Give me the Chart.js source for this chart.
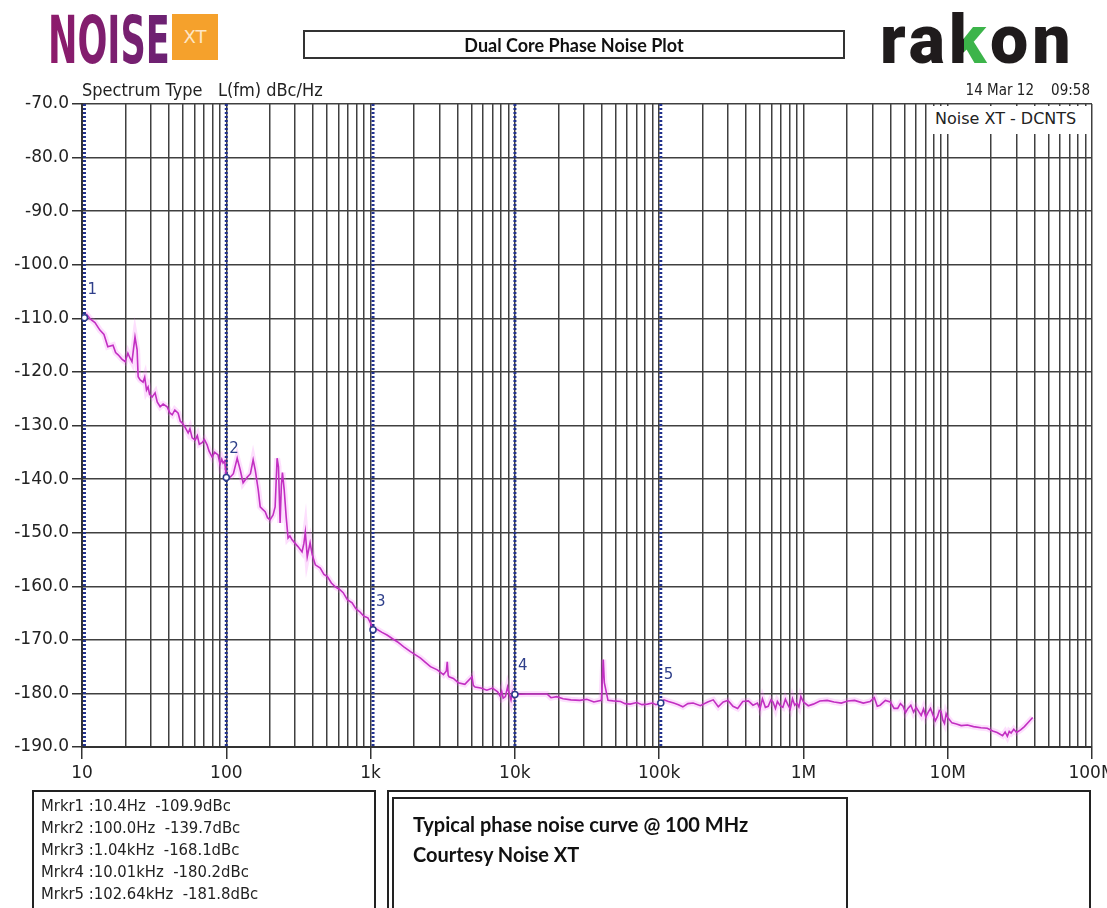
<!DOCTYPE html>
<html>
<head>
<meta charset="utf-8">
<title>Dual Core Phase Noise Plot</title>
<script src="https://cdn.jsdelivr.net/npm/chart.js@4.4.1/dist/chart.umd.min.js"></script>
<style>
  html, body { margin: 0; padding: 0; background: #fff; }
  body { width: 1107px; height: 908px; position: relative; overflow: hidden; font-family: 'DejaVu Sans', sans-serif; color: #222; }
  #plot { position: absolute; left: 0; top: 0; }
  .abs { position: absolute; white-space: nowrap; }
  #noise { left: 48px; top: 8px; font-family: 'DejaVu Sans Condensed', sans-serif; font-weight: bold;
           font-size: 50px; line-height: 50px; transform-origin: 0 0;
           background: linear-gradient(90deg, #8e1b6b, #6b2273); -webkit-background-clip: text; background-clip: text; color: transparent; }
  #xt { left: 172px; top: 14px; width: 46px; height: 46px; background: #f5a12c; color: #fde6c4; font-size: 18px; line-height: 46px; text-align: center; }
  #title { left: 303px; top: 30px; width: 538px; height: 25px; border: 2px solid #333; font-family: Lato, sans-serif; font-weight: bold;
           font-size: 18px; line-height: 27px; text-align: center; color: #111; }
  #rakon { left: 880px; top: 6px; font-family: Roboto, sans-serif; font-weight: 900; font-size: 68px; line-height: 68px; color: #1f1b1c; letter-spacing: 4px; }
  #rakon .k { background: linear-gradient(90deg, #1f1b1c 36%, #3cb44a 36%); -webkit-background-clip: text; background-clip: text; color: transparent; }
  #spec { left: 82px; top: 79px; font-family: 'DejaVu Sans Condensed', sans-serif; font-size: 18px; }
  #date { right: 17px; top: 81px; font-family: 'DejaVu Sans Condensed', sans-serif; font-size: 15px; }
  #tag { left: 932px; top: 106px; width: 158px; height: 28px; background: #fff; font-size: 16px; line-height: 26px; padding-left: 3px; box-sizing: border-box; }
  #mbox { left: 32px; top: 790px; width: 340px; height: 140px; border: 2px solid #222; }
  #mbox div { font-family: 'DejaVu Sans Condensed', sans-serif; font-size: 16.5px; height: 22px; line-height: 22px; margin-left: 7px; white-space: pre; }
  #mbox .first { margin-top: 3px; }
  #obox { left: 387px; top: 790px; width: 700px; height: 140px; border: 2px solid #222; }
  #ibox { left: 392px; top: 797px; width: 452px; height: 140px; border: 2px solid #222; font-family: Lato, sans-serif; font-weight: bold; font-size: 20px; color: #111; }
  #ibox div { margin-left: 19px; height: 30px; line-height: 30px; }
  #ibox .first { margin-top: 10px; }
</style>
</head>
<body>
<canvas id="plot" width="1107" height="908"></canvas>
<div class="abs" id="noise">NOISE</div>
<div class="abs" id="xt">XT</div>
<div class="abs" id="title">Dual Core Phase Noise Plot</div>
<div class="abs" id="rakon">ra<span class="k">k</span>on</div>
<div class="abs" id="spec">Spectrum Type&nbsp;&nbsp; L(fm) dBc/Hz</div>
<div class="abs" id="date">14 Mar 12&nbsp;&nbsp;&nbsp; 09:58</div>
<div class="abs" id="tag">Noise XT - DCNTS</div>
<div class="abs" id="mbox"></div>
<div class="abs" id="obox"></div>
<div class="abs" id="ibox">
  <div class="first">Typical phase noise curve @ 100 MHz</div>
  <div>Courtesy Noise XT</div>
</div>
<script>
const freqHz = [
  10, 10.4, 10.8, 11.5, 12.3, 13.3, 14.2, 15.1, 16.4, 17.1, 17.8, 18.9, 19.9, 20.8, 21.5, 22.2, 22.8, 23.3, 24.1, 24.5,
  25.3, 26.5, 27.2, 28.0, 28.7, 29.4, 30.6, 32.1, 33.2, 34.8, 36.5, 38.9, 40.5, 42.2, 44.0, 46.4, 48.0, 49.4, 51.5, 54.4,
  56.0, 58.0, 60.9, 63.0, 65.0, 68.0, 70.5, 73.6, 76.0, 79.8, 83.0, 87.7, 90.5, 93.0, 95.0, 97.5, 100,
  106.7, 112, 119, 125, 130.8, 140, 147, 153.5, 158.7, 166.5, 171.8, 178, 186, 193, 201, 211, 218, 225, 230, 236, 241, 245,
  252, 260, 268, 276, 285, 300, 314, 335, 345, 353, 364, 381, 394, 414, 448, 475, 502, 535, 570, 610, 646, 690, 745, 790,
  845, 900, 958, 1000, 1040, 1100, 1200, 1300, 1420, 1540, 1700, 1890, 2050, 2220, 2400, 2600, 2900, 3200, 3350, 3400,
  3450, 3500, 3750, 4050, 4500, 5050, 5150, 5300, 5800, 6400, 7000, 7600, 7900, 8100, 8300, 8600, 8900, 9200, 9400, 9600, 9800, 10010,
  12000, 14500, 16700, 17800, 19500, 21600, 24500, 28200, 31500, 35300, 39800, 41000, 41700, 44200, 48000, 54000,
  58000, 63000, 70000, 76000, 83000, 90000, 95000, 102640,
  108000, 116000, 126000, 136000, 146000, 158000, 172000, 193000, 217000, 237000, 257000, 278000, 300000, 325000,
  350000, 380000, 415000, 447000, 480000, 500000, 520000, 545000, 570000, 595000, 615000, 640000, 660000, 690000,
  720000, 750000, 780000, 810000, 840000, 870000, 900000, 930000, 960000,
  1000000, 1080000, 1170000, 1300000, 1460000, 1630000, 1830000, 2030000, 2260000, 2600000, 2900000, 3100000,
  3250000, 3400000, 3700000, 4000000, 4250000, 4500000, 4700000, 4900000, 5100000, 5300000, 5550000, 5800000,
  6050000, 6300000, 6550000, 6800000, 7050000, 7300000, 7600000, 7900000, 8200000, 8500000, 8750000, 9000000,
  9250000, 9500000, 9750000, 10000000, 10700000, 11500000, 12400000, 13700000, 15100000, 17000000,
  18800000, 20500000, 22000000, 24000000, 25000000, 25900000, 26700000, 27500000, 28700000, 30000000, 32000000,
  34000000, 36500000, 38800000
];
const phaseNoise = [
  -109.7, -109.9, -109.3, -110.2, -110.8, -112.2, -113.0, -115.3, -115.0, -116.4, -116.8, -117.6, -118.1, -116.5, -117.4, -118.1, -115.5, -113.5, -115.9, -120.9,
  -121.5, -121.9, -121.0, -123.4, -122.8, -124.2, -124.7, -123.9, -125.6, -126.5, -126.0, -126.5, -127.6, -128.0, -127.1, -127.7, -129.2, -129.5, -130.2, -131.4,
  -130.6, -132.3, -132.7, -131.9, -133.5, -133.2, -132.6, -133.6, -134.8, -135.9, -135.0, -135.5, -137.2, -136.3, -137.0, -136.6, -139.7,
  -139.6, -139.0, -136.1, -138.3, -140.7, -139.6, -139.0, -136.4, -138.3, -142.0, -145.2, -145.6, -146.1, -147.2, -147.6, -146.7, -145.2, -136.1, -137.7, -148.2, -141.0, -138.8,
  -142.0, -147.0, -151.0, -150.6, -151.3, -152.0, -152.6, -153.6, -152.0, -149.9, -154.5, -151.9, -154.1, -156.0, -156.6, -157.8, -158.2, -159.4, -160.1, -160.6, -161.2, -162.5, -163.1, -164.2,
  -164.8, -165.6, -165.9, -166.9, -168.1, -168.0, -168.6, -169.1, -169.8, -170.4, -171.3, -172.2, -172.8, -173.4, -174.2, -175.0, -175.6, -176.5, -175.8, -174.1,
  -176.6, -176.9, -177.2, -178.0, -178.3, -176.9, -178.5, -178.8, -179.0, -179.4, -179.0, -179.7, -180.5, -179.6, -180.9, -180.6, -178.8, -180.3, -181.2, -179.8, -180.7, -180.2,
  -180.1, -180.1, -180.1, -180.8, -180.6, -181.0, -181.2, -181.3, -181.1, -181.6, -181.3, -173.7, -178.0, -181.3, -181.4, -181.5,
  -181.9, -182.0, -181.7, -182.1, -182.0, -181.8, -182.1, -181.8,
  -181.2, -181.5, -181.8, -182.1, -182.5, -181.9, -181.8, -182.3, -181.6, -181.2, -182.5, -181.6, -181.3, -182.4,
  -182.8, -181.5, -181.4, -182.2, -181.8, -182.9, -181.0, -182.6, -182.4, -181.2, -181.6, -182.8, -181.5, -182.3,
  -182.6, -181.1, -182.1, -182.9, -181.0, -182.2, -181.8, -182.5, -180.6,
  -181.6, -182.3, -182.0, -181.4, -181.3, -181.6, -181.8, -181.4, -181.3, -181.8, -181.5, -180.8,
  -182.4, -182.2, -181.3, -181.6, -182.8, -182.8, -181.9, -182.4, -183.6, -182.8, -182.2, -183.5,
  -182.6, -183.4, -184.1, -182.9, -184.4, -183.6, -182.8, -184.0, -185.1, -184.3, -183.2, -183.4,
  -185.0, -185.6, -183.8, -184.5, -185.5, -185.7, -186.0, -185.9, -186.2, -186.4,
  -186.5, -187.0, -187.3, -187.9, -187.2, -188.0, -187.1, -187.4, -186.7, -187.3, -186.8,
  -186.2, -185.3, -184.5
];

// markers
const markerNames = ['1', '2', '3', '4', '5'];
const markerFreqs = [10.4, 100.0, 1040, 10010, 102640];
const markerLevels = [-109.9, -139.7, -168.1, -180.2, -181.8];

// axes
const decadeLabels = ['10', '100', '1k', '10k', '100k', '1M', '10M', '100M'];
const levelTicks = [-190, -180, -170, -160, -150, -140, -130, -120, -110, -100, -90, -80, -70];
const xMin = 10, xMax = 1e8, yMin = -190, yMax = -70;

// squeeze the logo word into its box
const noise = document.getElementById('noise');
noise.style.transform = 'scale(' + (122 / noise.scrollWidth) + ', 1.3)';

// fill the marker table
const mbox = document.getElementById('mbox');
markerFreqs.forEach((f, i) => {
  const fTxt = f < 1000 ? f.toFixed(1) + 'Hz' : (f / 1000).toFixed(2) + 'kHz';
  const row = document.createElement('div');
  if (i === 0) row.className = 'first';
  row.textContent = 'Mrkr' + markerNames[i] + ' :' + fTxt + '  ' + markerLevels[i].toFixed(1) + 'dBc';
  mbox.appendChild(row);
});

// log grid: 1..9 in every decade
const gridFreqs = [];
for (let d = 10; d < xMax; d *= 10) {
  for (let m = 1; m <= 9; m++) gridFreqs.push(m * d);
}
gridFreqs.push(xMax);

const isDecade = v => Math.abs(Math.log10(v) - Math.round(Math.log10(v))) < 1e-9;

const curve = freqHz.map((f, i) => ({ x: f, y: phaseNoise[i] }));

const datasets = [];
// marker points on top
datasets.push({
  data: markerFreqs.map((f, i) => ({ x: f, y: markerLevels[i] })),
  pointRadius: 3, pointBackgroundColor: '#fff', pointBorderColor: '#2a3a8a', pointBorderWidth: 1.5,
  showLine: false, order: 0
});
// trace
datasets.push({
  data: curve, showLine: true, borderColor: '#c22fc2', borderWidth: 1.6, pointRadius: 0, order: 1
});
// marker lines
markerFreqs.forEach(f => {
  datasets.push({
    data: [{ x: f, y: yMax }, { x: f, y: yMin }], showLine: true, borderColor: '#22328e', borderWidth: 3,
    borderDash: [2, 2], pointRadius: 0, order: 2
  });
});
// soft glow around the trace
datasets.push({
  data: curve, showLine: true, borderColor: 'rgba(245, 110, 245, 0.22)', borderWidth: 6, pointRadius: 0, order: 3
});

const markerLabels = {
  id: 'markerLabels',
  afterDatasetsDraw(chart) {
    const { ctx, scales: { x, y } } = chart;
    ctx.save();
    ctx.font = '15px "DejaVu Sans"';
    ctx.fillStyle = '#2f3f8a';
    markerNames.forEach((n, i) => {
      const px = x.getPixelForValue(markerFreqs[i]);
      const py = y.getPixelForValue(markerLevels[i]);
      ctx.fillText(n, px + 3, py - 24);
    });
    ctx.restore();
  }
};

new Chart(document.getElementById('plot'), {
  type: 'scatter',
  data: { datasets },
  options: {
    responsive: false,
    animation: false,
    layout: { padding: { left: 0, top: 104, right: 15, bottom: 0 } },
    plugins: { legend: { display: false }, tooltip: { enabled: false } },
    scales: {
      x: {
        type: 'logarithmic', min: xMin, max: xMax,
        afterBuildTicks: s => { s.ticks = gridFreqs.map(v => ({ value: v })); },
        afterFit: s => { s.height = 908 - 747; s.paddingLeft = 0; s.paddingRight = 0; },
        grid: {
          color: '#404040', lineWidth: 1.5, tickLength: 12,
          tickColor: c => (c.tick && isDecade(c.tick.value)) ? '#333' : 'rgba(0,0,0,0)'
        },
        border: { display: true, color: '#333', width: 2 },
        ticks: {
          autoSkip: false, maxRotation: 0, padding: 4, color: '#222',
          font: { family: 'DejaVu Sans', size: 17 },
          callback: v => isDecade(v) ? decadeLabels[Math.round(Math.log10(v)) - 1] : ''
        }
      },
      y: {
        min: yMin, max: yMax,
        afterBuildTicks: s => { s.ticks = levelTicks.map(v => ({ value: v })); },
        afterFit: s => { s.width = 82; s.paddingTop = 0; s.paddingBottom = 0; },
        grid: { color: '#404040', lineWidth: 1.5, tickLength: 10, tickColor: '#333' },
        border: { display: true, color: '#333', width: 2 },
        ticks: {
          padding: 3, color: '#222',
          font: { family: 'DejaVu Sans', size: 17 },
          callback: v => v.toFixed(1)
        }
      }
    }
  },
  plugins: [markerLabels]
});
</script>
</body>
</html>
